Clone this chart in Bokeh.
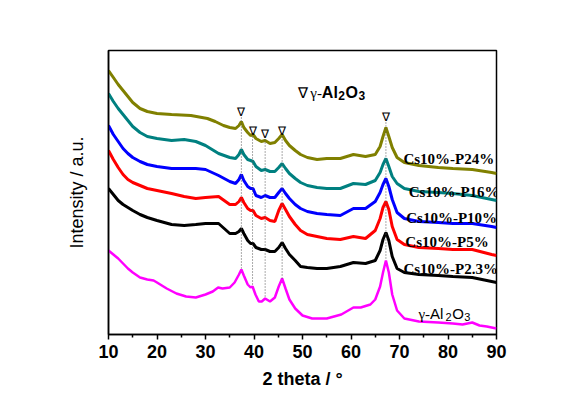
import numpy as np
from bokeh.plotting import figure
from bokeh.models import Range1d, FixedTicker
from bokeh.core.properties import value
from bokeh.embed import file_html
from bokeh.resources import INLINE

# ---------------- data ----------------
x_p24 = [10, 11, 12, 13, 14, 15, 16.5, 18, 20, 23, 27, 30.4, 32, 33.7, 35, 36.2, 36.9, 37.4, 37.9, 38.7,
         39.3, 39.8, 40.4, 41.5, 42.3, 43.3, 44.3, 45.1, 45.8, 46.5, 47.3, 48.5, 49.6, 51, 53, 55, 57.8,
         60.5, 63, 65, 66, 66.6, 67.2, 67.8, 68.5, 69.5, 71, 74, 78, 81, 85, 89, 90]
y_p24 = [264, 257, 250, 244, 238, 232, 226, 223, 221, 220, 219, 216, 213, 209, 207, 206, 209, 213, 207, 202,
         199, 200, 196, 193, 194, 191, 192, 196, 200, 194, 189, 184, 180, 177, 175, 176, 176,
         180, 178, 180, 188, 198, 207, 198, 187, 177, 172, 169, 167, 166, 165, 162, 161]

x_std = [10, 11, 12, 13, 14, 15, 16.5, 18, 20, 23, 25.6, 28, 30, 32.7, 35, 36.2, 36.9, 37.4, 37.9, 38.7,
         39.3, 39.8, 40.4, 41.5, 42.3, 43.3, 44.3, 45.1, 45.8, 46.5, 47.3, 48.5, 49.6, 51, 53, 55, 57.8,
         60.5, 63, 65, 66, 66.6, 67.2, 67.8, 68.5, 69.5, 71, 74, 78, 81, 85, 89, 90]
y_p16 = [241, 233, 226, 220, 214, 208, 202, 198, 196, 194, 195, 193, 189, 181, 177, 176, 180, 185, 180, 175,
         174, 173, 168, 164, 165, 163, 163, 167, 171, 166, 161, 156, 152, 149, 147, 146, 146,
         151, 150, 154, 162, 170, 176, 168, 158, 151, 146, 143, 142, 141, 139, 135, 134]
y_p10 = [209, 200, 193, 186, 181, 177, 173, 170, 168, 166, 166, 166, 165, 159, 153, 151, 155, 160, 154, 148,
         146, 146, 139, 137, 139, 137, 137, 142, 146, 141, 136, 130, 126, 123, 121, 120, 119,
         126, 126, 133, 142, 150, 156, 148, 135, 122, 116, 113, 112, 111, 111, 108, 107]
y_p5 = [184, 175, 167, 160, 155, 152, 149, 146, 144, 141, 138, 136, 137, 138, 130, 130, 133, 137, 132, 126,
        124, 124, 119, 116, 117, 114, 113, 124, 131, 125, 118, 110, 104, 100, 98, 96, 95,
        98, 96, 104, 116, 127, 133, 125, 108, 95, 90, 87, 86, 85, 85, 80, 79]
y_p23 = [146, 140, 134, 130, 127, 124, 120, 117, 114, 110, 109, 110, 111, 111, 101, 101, 103, 106, 101, 94,
         91, 91, 87, 85, 85, 83, 83, 87, 92, 86, 80, 74, 68, 67, 66, 66, 68,
         72, 71, 74, 84, 95, 102, 94, 78, 66, 62, 60, 59, 58, 57, 53, 52]

x_al = [10, 11, 12, 13, 14, 15, 16.5, 18, 19.3, 20, 22, 24, 26, 28, 30, 31.5, 32.6, 33.5, 35, 36, 36.9,
        37.4, 37.9, 38.7, 39.3, 39.7, 40.3, 41, 41.6, 42.3, 43.3, 44.3, 45.1, 45.8, 46.5, 47.3, 48.5,
        50, 52, 55, 58, 60.5, 62, 64, 65, 66, 66.6, 67.2, 67.8, 68.5, 69.5, 71, 74, 78, 81, 83, 85,
        86.5, 88, 90]
y_al = [84, 80, 76, 71, 66, 62, 57, 55, 54, 52, 46, 41, 38, 37, 40, 43, 47, 46, 47, 52, 60,
        65, 59, 50, 47, 48, 40, 33, 33, 36, 33, 37, 48, 56, 46, 35, 26,
        19, 16, 16, 20, 27, 27, 30, 35, 48, 62, 74, 62, 40, 24, 16, 13, 12, 11, 10, 12,
        9, 8, 6]

series_names = ["Cs10%-P24%", "Cs10%-P16%", "Cs10%-P10%", "Cs10%-P5%", "Cs10%-P2.3%"]
peak_x = [37.4, 39.7, 42.3, 45.8, 67.2]
x_ticks = [10, 20, 30, 40, 50, 60, 70, 80, 90]

# ---------------- figure ----------------
PX_PER_UNIT = 388 / 80.0  # frame width / x span, for placing text pieces side by side

p = figure(width=566, height=393, output_backend="svg", toolbar_location=None,
           x_range=Range1d(10, 90), y_range=Range1d(0, 284),
           min_border_left=108, min_border_right=70, min_border_top=50, min_border_bottom=59)
p.background_fill_color = "white"
p.border_fill_color = "white"
p.outline_line_color = "black"
p.outline_line_width = 1.5
p.xgrid.visible = False
p.ygrid.visible = False

xa = p.xaxis[0]
xa.ticker = FixedTicker(ticks=x_ticks, minor_ticks=[t + 5 for t in x_ticks[:-1]])
xa.major_tick_in = 0
xa.major_tick_out = 5
xa.minor_tick_in = 0
xa.minor_tick_out = 3
xa.major_tick_line_width = 1.5
xa.minor_tick_line_width = 1.5
xa.axis_line_width = 1.5
xa.major_label_text_font = "Liberation Sans"
xa.major_label_text_font_style = "bold"
xa.major_label_text_font_size = "18px"
xa.major_label_text_color = "black"
xa.major_label_standoff = 5
xa.axis_label = "2 theta / °"
xa.axis_label_text_font = "Liberation Sans"
xa.axis_label_text_font_style = "bold"
xa.axis_label_text_font_size = "18px"
xa.axis_label_text_color = "black"
xa.axis_label_standoff = 8

ya = p.yaxis[0]
ya.ticker = FixedTicker(ticks=[])
ya.major_tick_out = 0
ya.major_tick_in = 0
ya.minor_tick_out = 0
ya.minor_tick_in = 0
ya.major_label_text_font_size = "0px"
ya.major_label_standoff = 0
ya.axis_line_width = 1.5
ya.axis_label = "Intensity / a.u."
ya.axis_label_text_font = "Liberation Sans"
ya.axis_label_text_font_style = "normal"
ya.axis_label_text_font_size = "18px"
ya.axis_label_text_color = "black"
ya.axis_label_standoff = 22

# ---------------- curves ----------------
colors = ["#808000", "#008080", "#0000FF", "#FF0000", "#000000"]
ys = [y_p24, y_p16, y_p10, y_p5, y_p23]
xs = [x_p24, x_std, x_std, x_std, x_std]
for xv, yv, c in zip(xs, ys, colors):
    p.line(xv, yv, line_color=c, line_width=3)
p.line(x_al, y_al, line_color="#FF00FF", line_width=2.5)

# ---------------- peak markers and dotted guides ----------------
marker_y = [223, 204, 201, 204, 218]
bottoms = list(np.interp(peak_x, x_al, y_al))
p.segment(x0=peak_x, y0=[m - 6 for m in marker_y], x1=peak_x, y1=bottoms,
          line_color="#555555", line_width=1, line_dash="1 2")
p.text(x=peak_x, y=marker_y, text=["∇"] * len(peak_x), text_align="center",
       text_baseline="middle", text_font=value("Liberation Serif"), text_font_size="12px",
       text_color="black")

# ---------------- series labels ----------------
lab_x = [70.8, 71.9, 71.4, 71.2, 70.8]
lab_y = [176, 143, 117, 93, 66]
p.text(x=lab_x, y=lab_y, text=series_names, text_align="left", text_baseline="alphabetic",
       text_font=value("Liberation Serif"), text_font_style="bold", text_font_size="15px",
       text_color="black")


def formula(x_start, y_base, big, small, bold, serif_size):
    """Write γ-Al2O3 piece by piece (subscripts smaller and lowered)."""
    parts = [("γ-", "Liberation Serif", serif_size, 0, 0.74),
             ("Al", "Liberation Sans", big, 0, 1.0),
             ("2", "Liberation Sans", small, 3, 0.556),
             ("O", "Liberation Sans", big, 0, 0.778),
             ("3", "Liberation Sans", small, 3, 0.556)]
    x = x_start
    for t, f, s, d, em in parts:
        p.text(x=[x], y=[y_base - d], text=[t], text_align="left", text_baseline="alphabetic",
               text_font=value(f), text_font_size=f"{s}px",
               text_font_style=("bold" if (bold and f != "Liberation Serif") else "normal"),
               text_color="black")
        x += (em * s + 0.5) / PX_PER_UNIT


# bottom label  γ-Al2O3
formula(73.9, 21, 15, 11, False, 15)

# legend note  ∇ γ-Al2O3
p.text(x=[49.0], y=[242], text=["∇"], text_align="left", text_baseline="alphabetic",
       text_font=value("Liberation Serif"), text_font_size="15px", text_color="black")
formula(51.6, 242, 16, 12, True, 15)

open("out.html", "w").write(file_html(p, INLINE))
